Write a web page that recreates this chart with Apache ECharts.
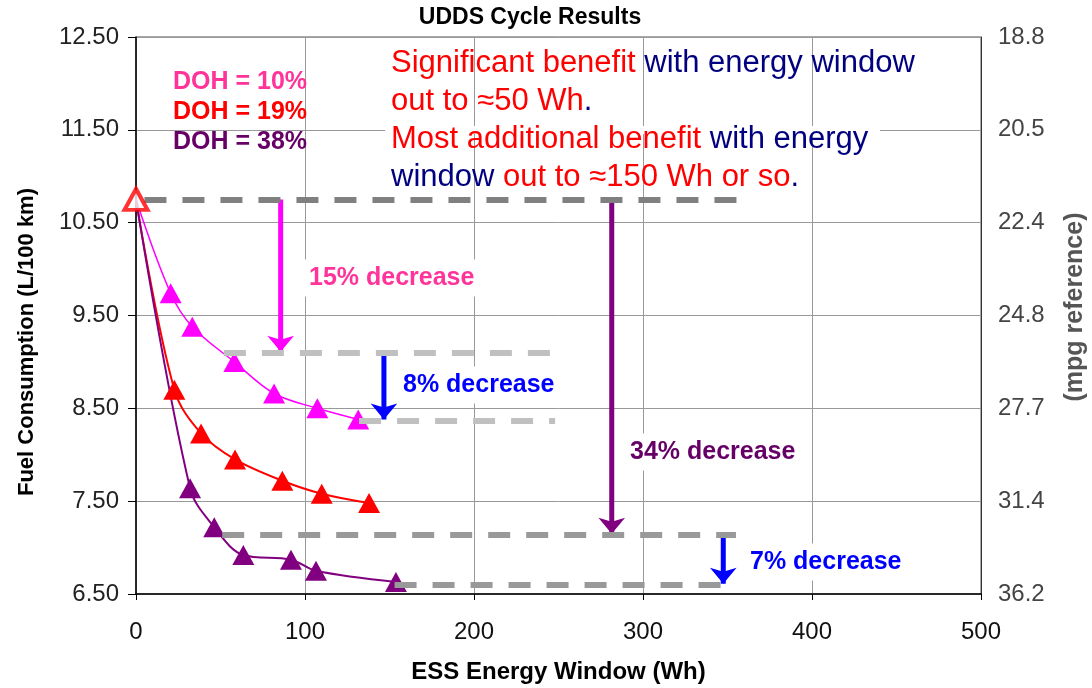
<!DOCTYPE html>
<html>
<head>
<meta charset="utf-8">
<title>UDDS Cycle Results</title>
<script src="https://cdn.jsdelivr.net/npm/echarts@6/dist/echarts.min.js"></script>
<style>
  html, body { margin: 0; padding: 0; background: #fff; }
  #chart { width: 1092px; height: 688px; }
</style>
</head>
<body>
<div id="chart"></div>
<script>
// fuel consumption (L/100 km) vs ESS energy window (Wh), UDDS cycle
const startX = [0];
const startY = [10.75];

const doh10X = [0, 20.5, 33.3, 58.2, 81.7, 107.3, 131.5];
const doh10Y = [10.75, 9.74, 9.38, 9.00, 8.66, 8.50, 8.38];
const doh19X = [0, 22.7, 38.5, 58.6, 86.6, 109.9, 137.9];
const doh19Y = [10.75, 8.70, 8.23, 7.95, 7.72, 7.58, 7.48];
const doh38X = [0, 32.0, 46.3, 63.5, 91.7, 106.5, 153.8];
const doh38Y = [10.75, 7.64, 7.22, 6.92, 6.87, 6.75, 6.63];

// dashed reference levels
const refY = [10.75, 9.10, 8.37, 7.14, 6.60];
const refFrom = [5, 52, 132, 51, 153];
const refTo = [357, 248, 248, 355, 355];

// decrease arrows (shaft start / tip)
const arrowX = [85.6, 146.7, 281.5, 347.5];
const arrowFrom = [10.75, 9.10, 10.75, 7.14];
const arrowTo = [9.11, 8.38, 7.15, 6.61];

// tick labels
const leftLabels = ['6.50', '7.50', '8.50', '9.50', '10.50', '11.50', '12.50'];
const mpgLabels = ['36.2', '31.4', '27.7', '24.8', '22.4', '20.5', '18.8'];

const font = 'Liberation Sans, Arial, Helvetica, sans-serif';
const dashColors = ['#808080', '#c0c0c0', '#c0c0c0', '#999999', '#999999'];
const arrowColors = ['#ff00ff', '#0000ff', '#800080', '#0000ff'];

function pts(xs, ys) {
  return xs.map((x, i) => ({ value: [x, ys[i]], symbol: i === 0 ? 'none' : 'triangle' }));
}

const refLineData = refY.map((y, i) => [
  { coord: [refFrom[i], y], lineStyle: { color: dashColors[i] } },
  { coord: [refTo[i], y] }
]);

const arrowSeries = arrowX.map((x, i) => ({
  type: 'line', xAxisIndex: 0, yAxisIndex: 2, z: 3, silent: true,
  data: [
    { value: [x, arrowFrom[i]], symbol: 'none' },
    { value: [x, arrowTo[i]], symbol: 'arrow' }
  ],
  symbolSize: [20, 16], symbolRotate: 180,
  lineStyle: { color: arrowColors[i], width: 5 },
  itemStyle: { color: arrowColors[i] }
}));

function curve(name, xs, ys, color, width) {
  return {
    name, type: 'line', xAxisIndex: 0, yAxisIndex: 2,
    data: pts(xs, ys),
    smooth: 0.35,
    symbolSize: [22, 20],
    lineStyle: { color, width },
    itemStyle: { color },
    z: 4
  };
}

function label(text, x, y, color) {
  return {
    type: 'text', x: x - 4, y, z: 100,
    style: {
      text, fill: color, font: 'bold 25px ' + font,
      align: 'left', verticalAlign: 'middle',
      backgroundColor: '#fff', padding: [6, 4]
    }
  };
}

const chart = echarts.init(document.getElementById('chart'));

chart.setOption({
  animation: false,
  grid: {
    left: 136, right: 111, top: 37, bottom: 94,
    outerBoundsMode: 'none', containLabel: false,
    show: true, borderColor: '#555', borderWidth: 1
  },
  xAxis: {
    type: 'value', min: 0, max: 500, interval: 100,
    axisLine: { show: true, lineStyle: { color: '#000', width: 1.5 } },
    axisTick: { show: true, length: 6, lineStyle: { color: '#000' } },
    axisLabel: { color: '#111', fontSize: 24, fontFamily: font, margin: 26 },
    splitLine: { show: true, lineStyle: { color: '#999' } },
    name: 'ESS Energy Window (Wh)', nameLocation: 'middle', nameGap: 66,
    nameTextStyle: { color: '#000', fontSize: 24, fontWeight: 'bold', fontFamily: font }
  },
  yAxis: [
    {
      type: 'value', position: 'left', min: 0, max: 6, interval: 1,
      axisLine: { show: true, lineStyle: { color: '#000', width: 1.5 } },
      axisTick: { show: true, length: 8, lineStyle: { color: '#000' } },
      axisLabel: { color: '#222', fontSize: 24, fontFamily: font, margin: 17,
        formatter: v => leftLabels[Math.round(v)] },
      splitLine: { show: true, lineStyle: { color: '#999' } }
    },
    {
      type: 'value', position: 'right', min: 0, max: 6, interval: 1,
      axisLine: { show: true, lineStyle: { color: '#333' } },
      axisTick: { show: false },
      axisLabel: { color: '#444', fontSize: 24, fontFamily: font, margin: 17,
        formatter: v => mpgLabels[Math.round(v)] },
      splitLine: { show: false }
    },
    { type: 'value', position: 'left', min: 6.5, max: 12.5, show: false, splitLine: { show: false } }
  ],
  series: [
    {
      type: 'line', xAxisIndex: 0, yAxisIndex: 2, data: [], z: 2, silent: true,
      markLine: {
        silent: true, symbol: 'none', animation: false,
        label: { show: false },
        lineStyle: { type: [22, 16], width: 6, opacity: 1 },
        emphasis: { disabled: true },
        data: refLineData
      }
    },
    ...arrowSeries,
    curve('DOH = 10%', doh10X, doh10Y, '#ff00ff', 1.5),
    curve('DOH = 19%', doh19X, doh19Y, '#ff0000', 2),
    curve('DOH = 38%', doh38X, doh38Y, '#800080', 2),
    {
      name: 'baseline', type: 'scatter', xAxisIndex: 0, yAxisIndex: 2,
      data: startX.map((x, i) => [x, startY[i]]),
      symbol: 'triangle', symbolSize: [23, 21],
      itemStyle: { color: '#fff', borderColor: '#ff0000', borderWidth: 4 },
      z: 6
    }
  ],
  graphic: [
    { type: 'text', x: 530, y: 18, z: 100,
      style: { text: 'UDDS Cycle Results', fill: '#000', font: 'bold 23px ' + font, align: 'center', verticalAlign: 'middle' } },
    { type: 'text', x: 27, y: 342, rotation: Math.PI / 2, z: 100,
      style: { text: 'Fuel Consumption (L/100 km)', fill: '#000', font: 'bold 22px ' + font, align: 'center', verticalAlign: 'middle' } },
    { type: 'text', x: 1075, y: 307, rotation: Math.PI / 2, z: 100,
      style: { text: '(mpg reference)', fill: '#555', font: 'bold 25px ' + font, align: 'center', verticalAlign: 'middle' } },
    { type: 'rect', z: 50, shape: { x: 385, y: 126, width: 495, height: 8 }, style: { fill: '#fff' } },
    { type: 'text', x: 391, y: 44, z: 100,
      style: {
        text: '{r|Significant benefit}{n| with energy window}\n{r|out to ≈50 Wh}{n|.}\n{r|Most additional benefit}{n| with energy}\n{n|window}{r| out to ≈150 Wh or so}{n|.}',
        fontSize: 31, fontFamily: font, lineHeight: 38,
        rich: {
          r: { fill: '#ff0000', fontSize: 31, fontFamily: font, lineHeight: 38 },
          n: { fill: '#000080', fontSize: 31, fontFamily: font, lineHeight: 38 }
        }
      } },
    { type: 'text', x: 173, y: 82, z: 100,
      style: { text: 'DOH = 10%', fill: '#ff3399', font: 'bold 25px ' + font, align: 'left', verticalAlign: 'middle' } },
    { type: 'text', x: 173, y: 112, z: 100,
      style: { text: 'DOH = 19%', fill: '#ff0000', font: 'bold 25px ' + font, align: 'left', verticalAlign: 'middle' } },
    { type: 'text', x: 173, y: 142, z: 100,
      style: { text: 'DOH = 38%', fill: '#660066', font: 'bold 25px ' + font, align: 'left', verticalAlign: 'middle' } },
    label('15% decrease', 309, 278, '#ff3399'),
    label('8% decrease', 403, 385, '#0000ff'),
    label('34% decrease', 630, 452, '#660066'),
    label('7% decrease', 750, 562, '#0000ff')
  ]
});
</script>
</body>
</html>
